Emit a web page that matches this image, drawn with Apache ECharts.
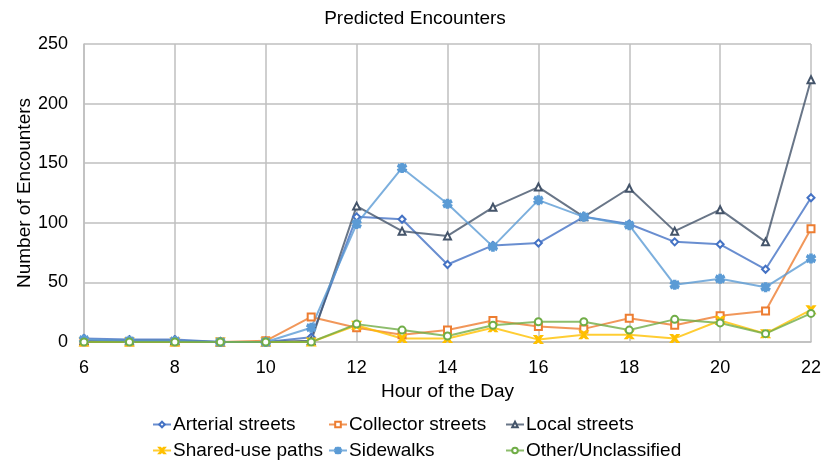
<!DOCTYPE html>
<html>
<head>
    <meta charset="utf-8" />
    <title>Predicted Encounters</title>
    <script src="https://cdn.jsdelivr.net/npm/echarts@6/dist/echarts.min.js"></script>
</head>
<body style="margin:0">
    <div id="main" style="width:830px;height:467px;"></div>
    <script type="text/javascript">
        var hours = [6, 7, 8, 9, 10, 11, 12, 13, 14, 15, 16, 17, 18, 19, 20, 21, 22];
        var arterial = [3, 2, 2, 0, 0, 4, 105, 103, 65, 81, 83, 105, 99, 84, 82, 61, 121];
        var collector = [0, 0, 0, 0, 1, 21, 12, 6, 10, 18, 13, 11, 20, 14, 22, 26, 95];
        var local = [1, 1, 1, 0, 0, 1, 114, 93, 89, 113, 130, 105, 129, 93, 111, 84, 220];
        var sharedUse = [0, 0, 0, 0, 0, 0, 14, 3, 3, 12, 2, 6, 6, 3, 18, 7, 27];
        var sidewalks = [2, 1, 1, 0, 0, 12, 99, 146, 116, 80, 119, 105, 98, 48, 53, 46, 70];
        var other = [0, 0, 0, 0, 0, 0, 15, 10, 5, 14, 17, 17, 10, 19, 16, 7, 24];

        var font = '"Liberation Sans", Arial, sans-serif';
        var xMark = 'path://M0,0L2,0L5,3L8,0L10,0L6,5L10,10L8,10L5,7L2,10L0,10L4,5Z';
        var star = 'path://M4,0L6,0L6,3L9,1L10,3L7,5L10,7L9,9L6,7L6,10L4,10L4,7L1,9L0,7L3,5L0,3L1,1L4,3Z';

        var defs = [
            { name: 'Arterial streets', data: arterial, color: '#4472C4', symbol: 'emptyDiamond', size: 7 },
            { name: 'Collector streets', data: collector, color: '#ED7D31', symbol: 'emptyRect', size: 7 },
            { name: 'Local streets', data: local, color: '#44546A', symbol: 'emptyTriangle', size: 7 },
            { name: 'Shared-use paths', data: sharedUse, color: '#FFC000', symbol: xMark, size: 7 },
            { name: 'Sidewalks', data: sidewalks, color: '#5B9BD5', symbol: star, size: 8 },
            { name: 'Other/Unclassified', data: other, color: '#70AD47', symbol: 'emptyCircle', size: 7 }
        ];

        var chart = echarts.init(document.getElementById('main'));
        var legendLeft = [147, 323, 500];
        var legendTop = [410, 436];

        var option = {
            animation: false,
            title: {
                text: 'Predicted Encounters',
                left: 'center',
                top: 4,
                textStyle: { fontFamily: font, fontSize: 19, fontWeight: 'normal', color: '#000' }
            },
            legend: defs.map(function (d, i) {
                return {
                    data: [d.name],
                    left: legendLeft[i % 3],
                    top: legendTop[Math.floor(i / 3)],
                    itemWidth: 18,
                    itemHeight: 7,
                    itemGap: 2,
                    textStyle: { fontFamily: font, fontSize: 19, color: '#000', padding: [0, 0, 0, -3] }
                };
            }),
            grid: { left: 84, right: 19, top: 44, bottom: 125 },
            xAxis: {
                type: 'value',
                min: 6,
                max: 22,
                interval: 2,
                name: 'Hour of the Day',
                nameLocation: 'middle',
                nameGap: 40,
                nameTextStyle: { fontFamily: font, fontSize: 19, color: '#000' },
                axisLine: { lineStyle: { color: '#bfbfbf', width: 1.5 } },
                axisTick: { show: false },
                axisLabel: { fontFamily: font, fontSize: 18, color: '#000', margin: 17 },
                splitLine: { show: true, lineStyle: { color: '#bfbfbf', width: 1.5 } }
            },
            yAxis: {
                type: 'value',
                min: 0,
                max: 250,
                interval: 50,
                name: 'Number of Encounters',
                nameLocation: 'middle',
                nameGap: 50,
                nameMoveOverlap: false,
                nameTextStyle: { fontFamily: font, fontSize: 19, color: '#000' },
                axisLine: { show: true, lineStyle: { color: '#bfbfbf', width: 1.5 } },
                axisTick: { show: false },
                axisLabel: { fontFamily: font, fontSize: 18, color: '#000', margin: 16 },
                splitLine: { show: true, lineStyle: { color: '#bfbfbf', width: 1.5 } }
            },
            series: defs.map(function (d) {
                return {
                    name: d.name,
                    type: 'line',
                    data: hours.map(function (h, i) { return [h, d.data[i]]; }),
                    color: d.color,
                    symbol: d.symbol,
                    symbolSize: d.size,
                    showAllSymbol: true,
                    lineStyle: { width: 2, color: d.color, opacity: 0.8 },
                    itemStyle: { color: d.color, borderColor: d.color, borderWidth: 2 }
                };
            })
        };
        chart.setOption(option);
    </script>
</body>
</html>
